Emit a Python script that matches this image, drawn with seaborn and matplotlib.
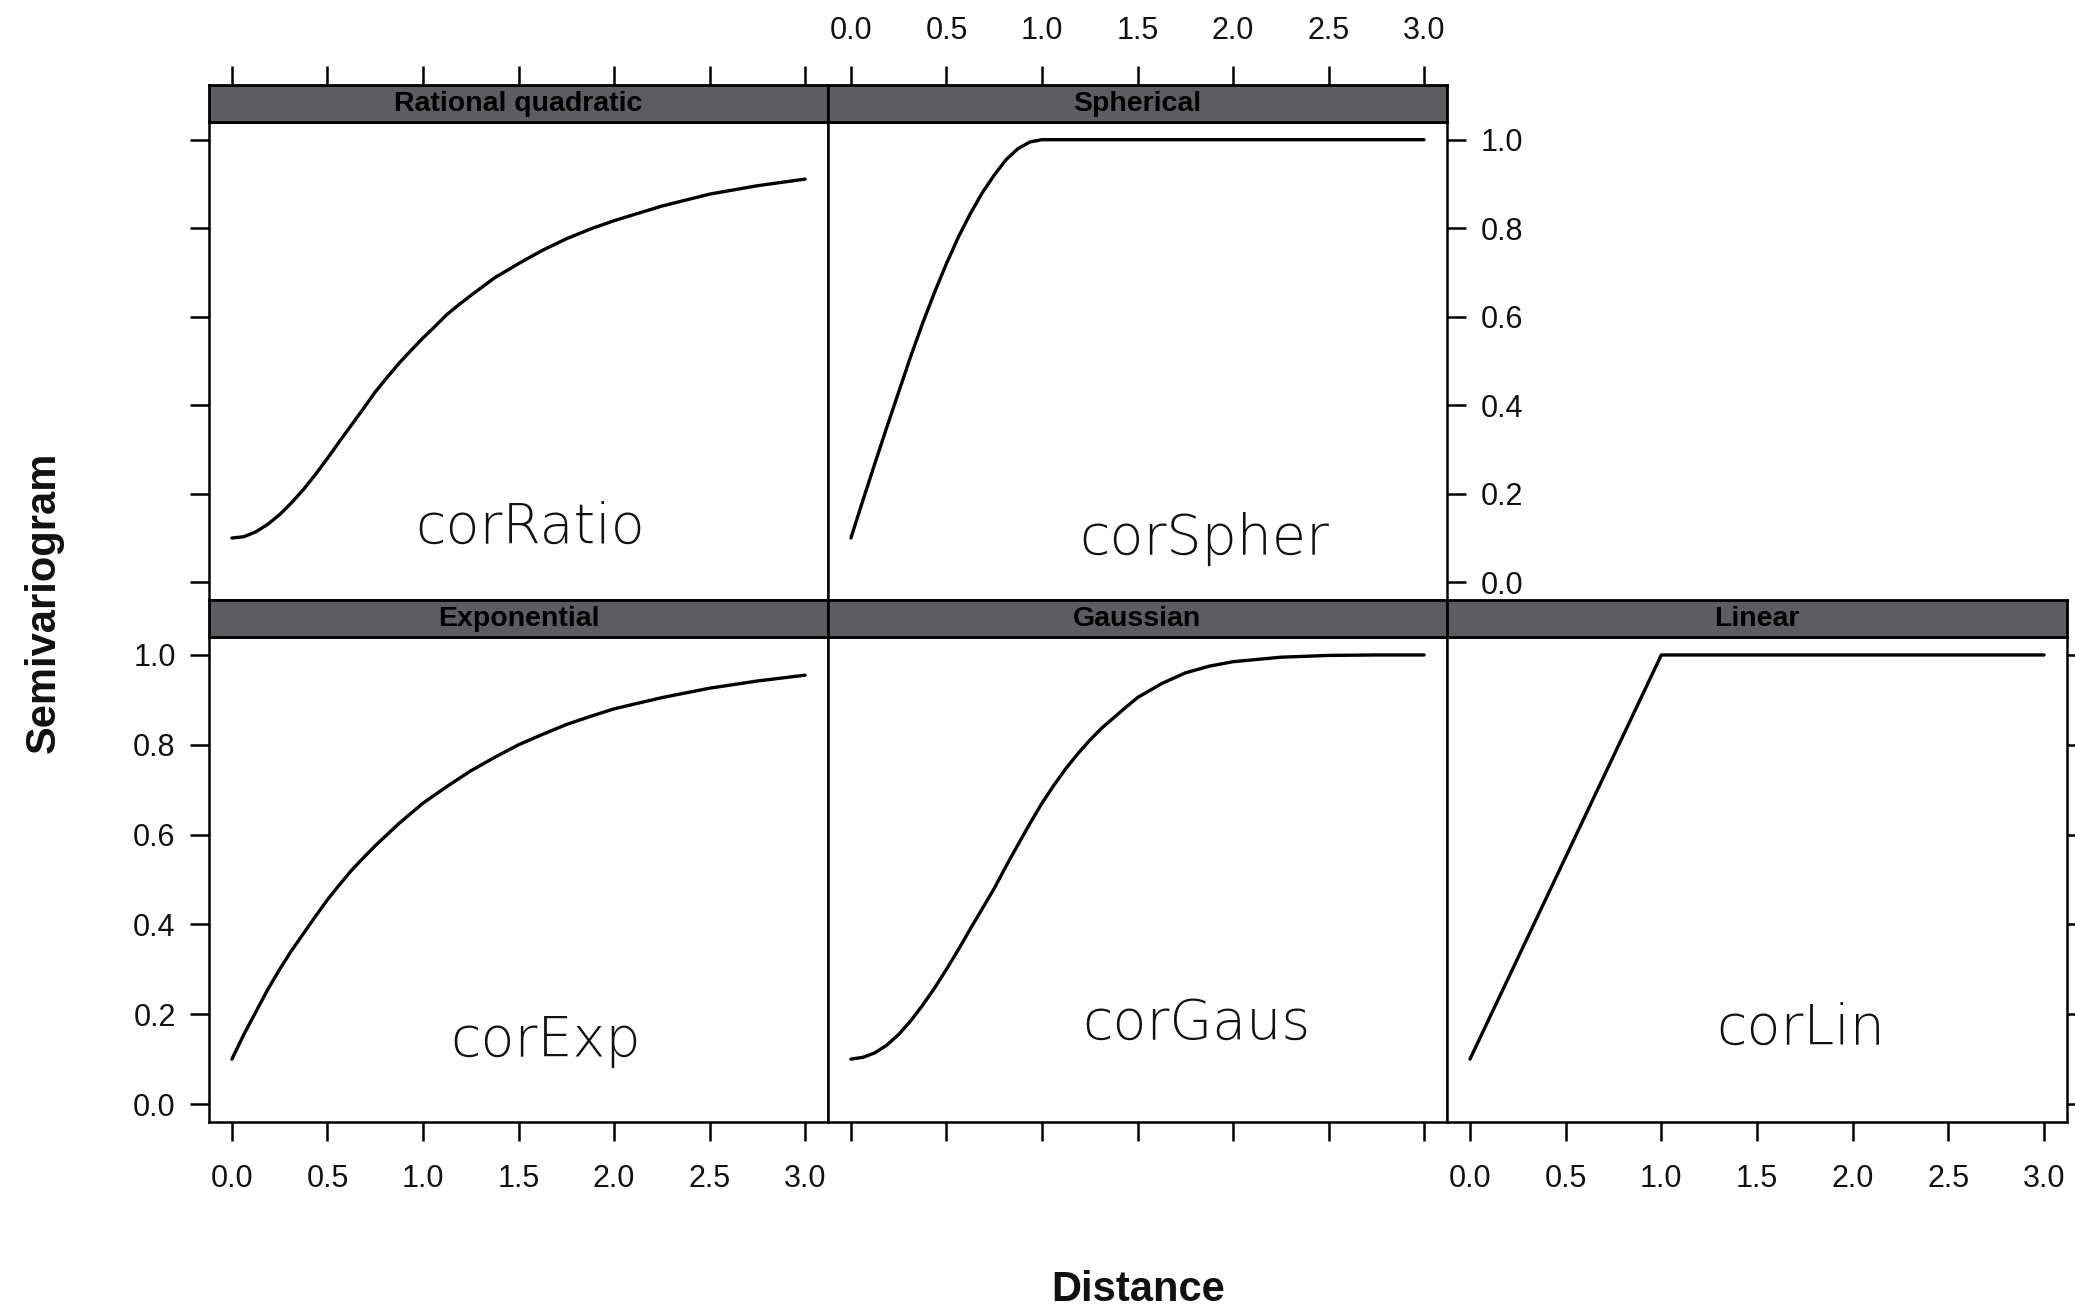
import numpy as np
import pandas as pd
import matplotlib
matplotlib.use("Agg")
import matplotlib.pyplot as plt
import seaborn as sns

# ---------------- data ----------------
strip_titles = ["Rational quadratic", "Spherical", "Exponential", "Gaussian", "Linear"]
model_labels = ["corRatio", "corSpher", "corExp", "corGaus", "corLin"]

ratio_x = [0.0, 0.0625, 0.125, 0.1875, 0.25, 0.3125, 0.375, 0.4375, 0.5, 0.5625, 0.625,
           0.6875, 0.75, 0.8125, 0.875, 0.9375, 1.0, 1.0625, 1.125, 1.1875, 1.25, 1.375,
           1.5, 1.625, 1.75, 1.875, 2.0, 2.25, 2.5, 2.75, 3.0]
ratio_y = [0.100, 0.103, 0.114, 0.131, 0.153, 0.180, 0.210, 0.244, 0.280, 0.318, 0.355,
           0.392, 0.430, 0.463, 0.495, 0.524, 0.552, 0.578, 0.605, 0.627, 0.648, 0.688,
           0.720, 0.750, 0.776, 0.798, 0.817, 0.850, 0.877, 0.896, 0.911]

spher_x = [0.0, 0.0625, 0.125, 0.1875, 0.25, 0.3125, 0.375, 0.4375, 0.5, 0.5625, 0.625,
           0.6875, 0.75, 0.8125, 0.875, 0.9375, 1.0, 1.5, 2.0, 2.5, 3.0]
spher_y = [0.100, 0.185, 0.268, 0.350, 0.430, 0.510, 0.585, 0.655, 0.720, 0.780, 0.833,
           0.880, 0.920, 0.955, 0.980, 0.995, 1.0, 1.0, 1.0, 1.0, 1.0]

exp_x = [0.0, 0.0625, 0.125, 0.1875, 0.25, 0.3125, 0.375, 0.4375, 0.5, 0.5625, 0.625,
         0.6875, 0.75, 0.875, 1.0, 1.125, 1.25, 1.375, 1.5, 1.625, 1.75, 1.875, 2.0,
         2.25, 2.5, 2.75, 3.0]
exp_y = [0.100, 0.155, 0.205, 0.255, 0.300, 0.342, 0.380, 0.418, 0.455, 0.488, 0.520,
         0.548, 0.575, 0.625, 0.670, 0.707, 0.742, 0.772, 0.800, 0.823, 0.845, 0.863, 0.880,
         0.905, 0.926, 0.942, 0.955]

gaus_x = [0.0, 0.0625, 0.125, 0.1875, 0.25, 0.3125, 0.375, 0.4375, 0.5, 0.5625, 0.625,
          0.6875, 0.75, 0.8125, 0.875, 0.9375, 1.0, 1.0625, 1.125, 1.1875, 1.25, 1.3125,
          1.375, 1.4375, 1.5, 1.625, 1.75, 1.875, 2.0, 2.25, 2.5, 2.75, 3.0]
gaus_y = [0.100, 0.104, 0.114, 0.131, 0.155, 0.185, 0.220, 0.258, 0.300, 0.344, 0.390,
          0.435, 0.480, 0.530, 0.578, 0.625, 0.670, 0.710, 0.747, 0.780, 0.810, 0.837,
          0.860, 0.883, 0.905, 0.936, 0.960, 0.975, 0.985, 0.995, 0.999, 1.0, 1.0]

lin_x = [0.0, 1.0, 3.0]
lin_y = [0.10, 1.0, 1.0]

x_ticks = [0.0, 0.5, 1.0, 1.5, 2.0, 2.5, 3.0]
y_ticks = [0.0, 0.2, 0.4, 0.6, 0.8, 1.0]

label_x = [1.56, 1.85, 1.64, 1.81, 1.73]
label_y = [0.09, 0.064, 0.108, 0.145, 0.134]

series_x = [ratio_x, spher_x, exp_x, gaus_x, lin_x]
series_y = [ratio_y, spher_y, exp_y, gaus_y, lin_y]

frames = []
for title, xs, ys in zip(strip_titles, series_x, series_y):
    frames.append(pd.DataFrame({"model": title, "distance": xs, "semivariogram": ys}))
df = pd.concat(frames, ignore_index=True)

# ---------------- style ----------------
sns.set_theme(style="white")
plt.rcParams["font.family"] = ["Liberation Sans", "DejaVu Sans"]

W, H = 2075, 1312
fig = plt.figure(figsize=(W / 100, H / 100), dpi=100)


def frac(x0, y0, x1, y1):
    return [x0 / W, 1 - y1 / H, (x1 - x0) / W, (y1 - y0) / H]


col_x = [209, 828, 1447, 2067]
rows = {0: (85, 122, 600), 1: (600, 637, 1122)}
grid = [(0, 0), (0, 1), (1, 0), (1, 1), (1, 2)]

xlim = (-0.12, 3.12)
ylim = (-0.04, 1.04)
strip_color = "#5c5c61"
tick_fs = 22

for i, title in enumerate(strip_titles):
    r, c = grid[i]
    s0, s1, p1 = rows[r]
    x0, x1 = col_x[c], col_x[c + 1]
    ax = fig.add_axes(frac(x0, s1, x1, p1))
    sax = fig.add_axes(frac(x0, s0, x1, s1), sharex=ax)

    sub = df[df["model"] == title]
    sns.lineplot(data=sub, x="distance", y="semivariogram", ax=ax,
                 color="black", linewidth=2.4, estimator=None, sort=False)
    ax.set_xlim(*xlim)
    ax.set_ylim(*ylim)
    ax.set_xlabel("")
    ax.set_ylabel("")
    ax.set_xticks(x_ticks)
    ax.set_yticks(y_ticks)
    ax.set_xticklabels([f"{v:.1f}" for v in x_ticks])
    ax.set_yticklabels([f"{v:.1f}" for v in y_ticks])
    for sp in ax.spines.values():
        sp.set_color("black")
        sp.set_linewidth(1.8)
    ax.tick_params(axis="both", which="both", direction="out", length=14, width=1.8,
                   color="black", labelsize=tick_fs, labelcolor="#111111", pad=10,
                   bottom=False, top=False, left=False, right=False,
                   labelbottom=False, labeltop=False, labelleft=False, labelright=False)

    ax.text(label_x[i], label_y[i], model_labels[i], ha="center", va="baseline",
            fontsize=40, family="DejaVu Sans", fontweight="light", color="#111111")

    # strip
    sax.set_facecolor(strip_color)
    sax.set_ylim(0, 1)
    sax.set_yticks([])
    for sp in sax.spines.values():
        sp.set_color("black")
        sp.set_linewidth(2.0)
    sax.text(0.5, 0.48, title, transform=sax.transAxes, ha="center", va="center",
             fontsize=20.5, fontweight="bold", color="black")
    sax.tick_params(axis="x", which="both", direction="out", length=14, width=1.8,
                    color="black", labelsize=tick_fs, labelcolor="#111111", pad=14,
                    bottom=False, top=False, labelbottom=False, labeltop=False)

    # lattice-like alternating axes
    if (r, c) == (0, 0):
        sax.tick_params(axis="x", top=True)
        ax.tick_params(axis="y", left=True)
    if (r, c) == (0, 1):
        sax.tick_params(axis="x", top=True, labeltop=True)
        ax.tick_params(axis="y", right=True, labelright=True)
    if (r, c) == (1, 0):
        ax.tick_params(axis="x", bottom=True, labelbottom=True)
        ax.tick_params(axis="y", left=True, labelleft=True)
    if (r, c) == (1, 1):
        ax.tick_params(axis="x", bottom=True)
    if (r, c) == (1, 2):
        ax.tick_params(axis="x", bottom=True, labelbottom=True)
        ax.tick_params(axis="y", right=True)

    if (r, c) in [(1, 0), (1, 2)]:
        ax.tick_params(axis="x", pad=16)

fig.text(1138 / W, 1 - 1290 / H, "Distance", ha="center", va="center",
         fontsize=30, fontweight="bold", color="#111111")
fig.text(44 / W, 1 - 602 / H, "Semivariogram", ha="center", va="center",
         rotation=90, fontsize=30, fontweight="bold", color="#111111")

fig.savefig("out.png", dpi=100, facecolor="white")
